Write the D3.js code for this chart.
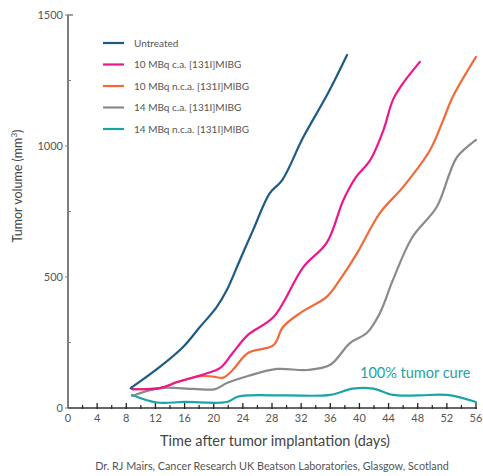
<!DOCTYPE html>
<html><head><meta charset="utf-8">
<script src="https://cdn.jsdelivr.net/npm/d3@7"></script>
<style>body{margin:0;background:#fff}svg{display:block}text{font-family:Lato,"Noto Sans",sans-serif}</style>
</head><body><svg id="c" width="483" height="476"></svg>
<script>
const seriesNames = ["Untreated","10 MBq c.a. [131I]MIBG","10 MBq n.c.a. [131I]MIBG","14 MBq c.a. [131I]MIBG","14 MBq n.c.a. [131I]MIBG"];
const colors = ["#1d5a84","#ec178c","#f26a3a","#878b8f","#1ba4a8"];
const untreatedDays = [8.6,12.6,15.8,18.1,20.4,21.8,23.6,25.4,27.7,29.4,32.3,35.7,38.3];
const untreatedVals = [76,157,233,309,385,450,565,679,820,870,1034,1202,1347];
const caTenDays = [8.8,12.6,15,18.8,20.9,22.6,24.7,28.2,32.3,35.5,37.8,39.5,41.5,43.3,44.6,46,48.3];
const caTenVals = [72,76,99,130,153,210,279,347,538,630,794,880,947,1061,1176,1240,1321];
const ncaTenDays = [8.8,12.6,15,18.1,19.9,21.3,22.6,24.7,28.2,29.5,32,35.5,37.3,39.7,42.8,46,49.7,51.5,52.8,56];
const ncaTenVals = [72,76,99,122,120,116,145,210,240,309,365,424,489,592,744,844,985,1099,1187,1340];
const caFourteenDays = [8.8,12.6,17.2,20.2,21.8,24.7,28.7,32.8,36,38.7,41,42.8,44.6,47.2,50.6,52.4,53.4,56];
const caFourteenVals = [46,76,73,72,95,122,149,145,165,248,286,362,489,649,767,897,958,1023];
const ncaFourteenDays = [8.8,12.2,16,21.8,23.2,24.7,30,36,39.1,41.9,44.6,48,52,56];
const ncaFourteenVals = [50,21,23,23,42,48,48,50,74,74,50,48,50,23];
const xTicks = d3.range(0,57,4);
const yTicks = [0,500,1000,1500];
const yMinorTicks = [250,750,1250];
const xMinorTicks = d3.range(2,57,4);

const series = [
  [untreatedDays,untreatedVals],[caTenDays,caTenVals],[ncaTenDays,ncaTenVals],
  [caFourteenDays,caFourteenVals],[ncaFourteenDays,ncaFourteenVals]
];

const svg = d3.select("#c");
const x = d3.scaleLinear().domain([0,56]).range([68,476]);
const y = d3.scaleLinear().domain([0,1500]).range([408,15]);

// y axis
const ya = svg.append("g");
ya.append("line").attr("x1",x(0)).attr("x2",x(0)).attr("y1",y(1500)-0.5).attr("y2",y(0)).attr("stroke","#7b8085").attr("stroke-width",2);
ya.append("line").attr("x1",x(0)).attr("x2",x(0)+5).attr("y1",y(1500)).attr("y2",y(1500)).attr("stroke","#7b8085").attr("stroke-width",1.5);
yMinorTicks.forEach(v=>ya.append("line").attr("x1",x(0)).attr("x2",x(0)+3).attr("y1",y(v)).attr("y2",y(v)).attr("stroke","#7b8085").attr("stroke-width",1));
yTicks.forEach(v=>{
  ya.append("line").attr("x1",x(0)-3).attr("x2",x(0)).attr("y1",y(v)).attr("y2",y(v)).attr("stroke","#7b8085").attr("stroke-width",1);
  ya.append("text").attr("x",x(0)-5).attr("y",y(v)+4).attr("text-anchor","end").attr("font-size",11).attr("fill","#555").text(v);
});

// x axis
const xa = svg.append("g");
xa.append("line").attr("x1",x(0)).attr("x2",x(56)+1).attr("y1",y(0)).attr("y2",y(0)).attr("stroke","#333").attr("stroke-width",1.5);
xTicks.forEach(v=>{
  if(v>0) xa.append("line").attr("x1",x(v)).attr("x2",x(v)).attr("y1",y(0)-5).attr("y2",y(0)+1).attr("stroke","#222").attr("stroke-width",1.3);
  xa.append("text").attr("x",x(v)).attr("y",y(0)+14).attr("text-anchor","middle").attr("font-size",11).attr("fill","#555").text(v);
});
xMinorTicks.forEach(v=>xa.append("line").attr("x1",x(v)).attr("x2",x(v)).attr("y1",y(0)-3).attr("y2",y(0)+1).attr("stroke","#222").attr("stroke-width",1.2));

// lines
const line = d3.line().x(d=>x(d[0])).y(d=>y(d[1])).curve(d3.curveCatmullRom.alpha(0.5));
const order = [4,3,2,1,0];
order.forEach(i=>{
  const pts = series[i][0].map((d,j)=>[d,series[i][1][j]]);
  svg.append("path").attr("d",line(pts)).attr("fill","none").attr("stroke",colors[i]).attr("stroke-width",2.2).attr("stroke-linecap","round");
});

// legend
seriesNames.forEach((n,i)=>{
  const ly = 43 + i*21.5;
  svg.append("line").attr("x1",103).attr("x2",124).attr("y1",ly).attr("y2",ly).attr("stroke",colors[i]).attr("stroke-width",2.2);
  svg.append("text").attr("x",134).attr("y",ly+3.5).attr("font-size",10).attr("fill","#555").text(n);
});

// annotations
svg.append("text").attr("x",360).attr("y",378).attr("font-size",14.5).attr("fill","#1ba4a8").text("100% tumor cure");
svg.append("text").attr("transform","translate(22,186) rotate(-90)").attr("text-anchor","middle").attr("font-size",12.5).attr("fill","#444")
  .html('Tumor volume (mm<tspan dy="-5" font-size="8">3</tspan><tspan dy="5">)</tspan>');
svg.append("text").attr("x",275).attr("y",446).attr("text-anchor","middle").attr("font-size",14.5).attr("fill","#444").text("Time after tumor implantation (days)");
svg.append("text").attr("x",272).attr("y",470).attr("text-anchor","middle").attr("font-size",10.8).attr("fill","#555").text("Dr. RJ Mairs, Cancer Research UK Beatson Laboratories, Glasgow, Scotland");
</script></body></html>
